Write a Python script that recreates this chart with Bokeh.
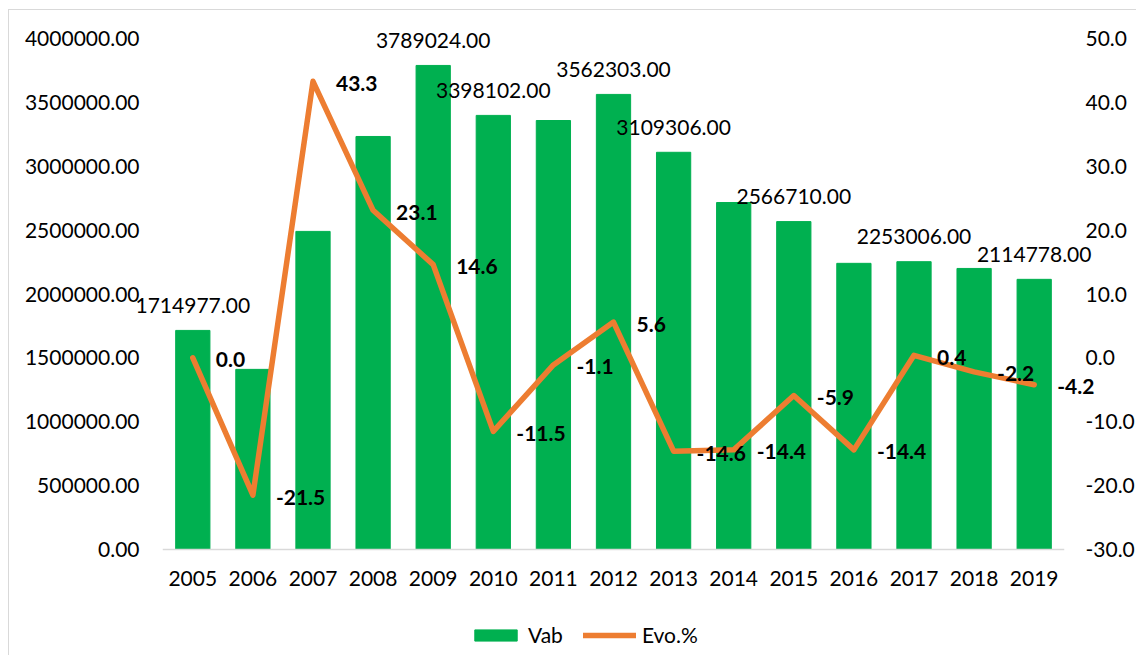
from bokeh.plotting import figure
from bokeh.models import (Range1d, FactorRange, LinearAxis, FixedTicker, PrintfTickFormatter,
                          ColumnDataSource, LabelSet, Legend, LegendItem)
from bokeh.core.properties import value
from bokeh.embed import file_html
from bokeh.resources import INLINE

years = [str(y) for y in range(2005, 2020)]
vab = [1714977, 1410000, 2490000, 3233000, 3789024, 3398102, 3358000, 3562303,
       3109306, 2716000, 2566710, 2240000, 2253006, 2200000, 2114778]
evo = [0.0, -21.5, 43.3, 23.1, 14.6, -11.5, -1.1, 5.6, -14.6, -14.4, -5.9, -14.4, 0.4, -2.2, -4.2]
vab_label_shown = [True, False, False, False, True, True, False, True, True, False,
                   True, False, True, False, True]
left_ticks = [0, 500000, 1000000, 1500000, 2000000, 2500000, 3000000, 3500000, 4000000]
right_ticks = [-30, -20, -10, 0, 10, 20, 30, 40, 50]

FONT = "Lato"
FS = "21px"
GREEN = "#00B050"
ORANGE = "#ED7D31"

# axis scale geometry (pixels): top tick at the top of the value area, lowest tick at its bottom
AXIS_PX = 511.0
HEAD_PX = 19.0    # room above the top tick (for labels)
FOOT_PX = 106.0   # room below zero (axis labels and legend)
l_lo, l_hi = left_ticks[0], left_ticks[-1]
r_lo, r_hi = right_ticks[0], right_ticks[-1]
l_per = (l_hi - l_lo) / AXIS_PX
r_per = (r_hi - r_lo) / AXIS_PX

src = ColumnDataSource(dict(year=years, vab=vab, evo=evo,
                            evo_txt=["%.1f" % v for v in evo]))
lab_src = ColumnDataSource(dict(
    year=[y for y, s in zip(years, vab_label_shown) if s],
    vab=[v for v, s in zip(vab, vab_label_shown) if s],
    txt=["%.2f" % v for v, s in zip(vab, vab_label_shown) if s]))

p = figure(x_range=FactorRange(*years, range_padding=0.52, range_padding_units="absolute"),
           y_range=Range1d(l_lo - FOOT_PX * l_per, l_hi + HEAD_PX * l_per),
           width=1128, height=646, output_backend="svg", toolbar_location=None,
           min_border_left=122, min_border_right=40, min_border_top=9, min_border_bottom=1)
p.extra_y_ranges = {"pct": Range1d(r_lo - FOOT_PX * r_per, r_hi + HEAD_PX * r_per)}
p.styles = {"margin-left": "8px", "margin-top": "9px",
            "border-left": "1px solid #D9D9D9", "border-top": "1px solid #D9D9D9"}
p.outline_line_color = None
p.xgrid.visible = False
p.ygrid.visible = False

bars = p.vbar(x="year", top="vab", width=0.57, source=src, fill_color=GREEN, line_color=GREEN)
# category baseline at zero (from left edge of first category to right edge of last)
p.segment(x0=[0], y0=[0], x1=[len(years)], y1=[0], line_color="#D9D9D9", line_width=1.5)
line = p.line(x="year", y="evo", source=src, y_range_name="pct", line_color=ORANGE,
              line_width=5.5, line_join="round", line_cap="round")

ya = p.yaxis[0]
ya.ticker = FixedTicker(ticks=left_ticks)
ya.formatter = PrintfTickFormatter(format="%.2f")
ya.major_label_standoff = -8

ra = LinearAxis(y_range_name="pct", ticker=FixedTicker(ticks=right_ticks),
                formatter=PrintfTickFormatter(format="%.1f"))
ra.major_label_standoff = -10
p.add_layout(ra, "right")

xa = p.xaxis[0]
xa.major_label_standoff = -85

for ax in [ya, ra, xa]:
    ax.axis_line_color = None
    ax.major_tick_line_color = None
    ax.minor_tick_line_color = None
    ax.major_tick_out = 0
    ax.major_tick_in = 0
    ax.minor_tick_out = 0
    ax.minor_tick_in = 0
    ax.major_label_text_font = FONT
    ax.major_label_text_font_size = FS
    ax.major_label_text_color = "#000000"

bar_labels = LabelSet(x="year", y="vab", text="txt", source=lab_src, text_align="center",
                      text_baseline="middle", y_offset=25, text_font=value(FONT),
                      text_font_size=value(FS), text_color="#000000")
p.add_layout(bar_labels)

line_labels = LabelSet(x="year", y="evo", text="evo_txt", source=src, y_range_name="pct",
                       text_align="left", text_baseline="middle", x_offset=23, y_offset=-2,
                       text_font=value(FONT), text_font_size=value(FS),
                       text_font_style="bold", text_color="#000000")
p.add_layout(line_labels)

legend = Legend(items=[LegendItem(label="Vab", renderers=[bars]),
                       LegendItem(label="Evo.%", renderers=[line])],
                orientation="horizontal", location=(338, 8))
legend.glyph_width = 53
legend.glyph_height = 14
legend.label_text_font = FONT
legend.label_text_font_size = FS
legend.label_text_color = "#000000"
legend.label_standoff = 6
legend.spacing = 20
legend.padding = 0
legend.margin = 0
legend.border_line_color = None
legend.background_fill_alpha = 0
p.add_layout(legend)

open("out.html", "w").write(file_html(p, INLINE))
